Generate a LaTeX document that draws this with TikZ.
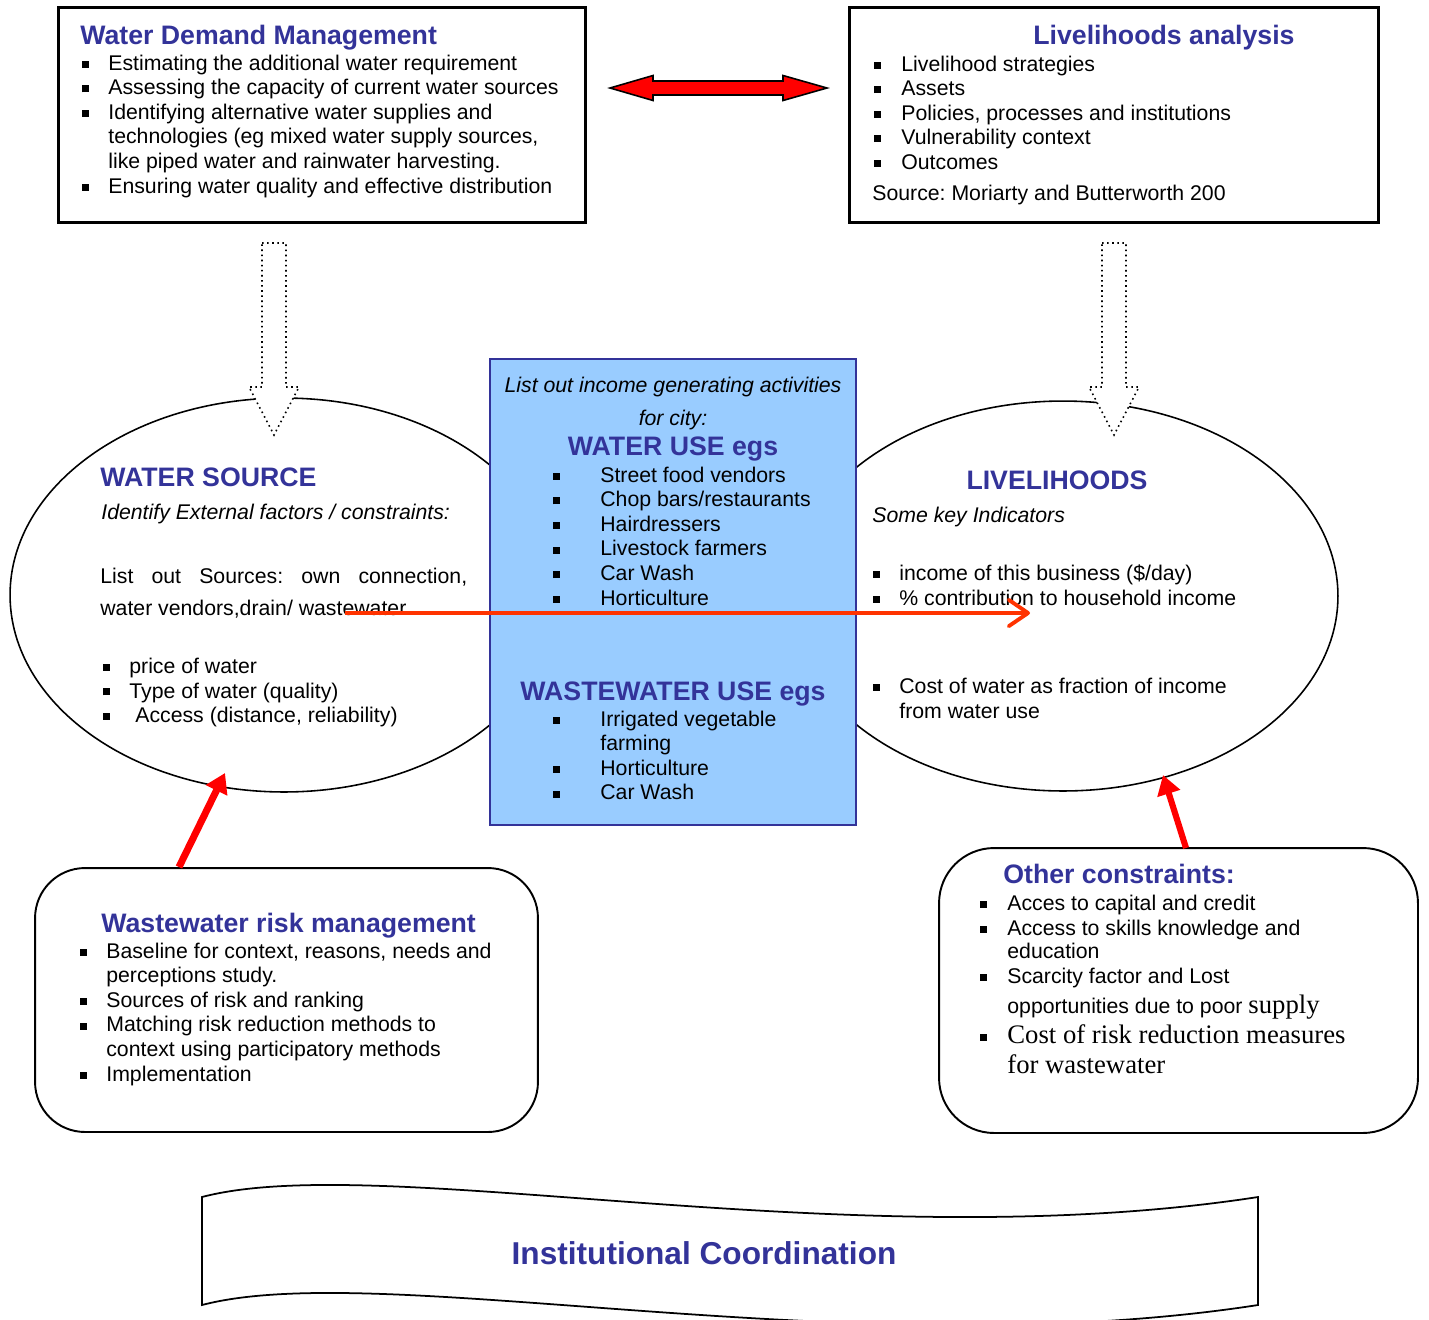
\documentclass[tikz,border=0pt]{standalone}
\usepackage{fontspec}
\setmainfont{Liberation Sans}
\newfontfamily\timesfont{Liberation Serif}
\usepackage{xcolor}
\usetikzlibrary{arrows.meta,calc,positioning,shapes.geometric}

\definecolor{hdblue}{HTML}{333399}
\definecolor{usefill}{HTML}{99CCFF}
\definecolor{flowred}{HTML}{FF3300}

\frenchspacing
\newcommand{\bodyfont}{\fontsize{12.1}{14}\selectfont}
\newcommand{\hdfont}{\fontsize{15.2}{17}\selectfont\bfseries}
\newcommand{\serifbig}{\timesfont\fontsize{15.2}{17}\selectfont}
\newcommand{\sqbul}{\rule[1.3pt]{4pt}{4pt}}

\tikzset{
  txt/.style={anchor=base west, inner sep=0pt, font=\bodyfont},
  itx/.style={anchor=base west, inner sep=0pt, font=\bodyfont\itshape},
  hd/.style={anchor=base west, inner sep=0pt, font=\hdfont, text=hdblue},
  boxframe/.style={draw, line width=1.7pt, inner sep=0pt},
  oval/.style={draw, ellipse, line width=0.9pt, inner sep=0pt},
  roundbox/.style={draw, line width=1.1pt, rounded corners=1cm, inner sep=0pt},
  redarrow/.style={draw=red, line width=4pt, -{Triangle[length=11pt,width=13pt]}},
  dotarrow/.style={dotted, line width=0.9pt, fill=white},
}

\begin{document}
\begin{tikzpicture}[x=0.02cm,y=-0.02cm]
\useasboundingbox (0,0) rectangle (1429,1319);

\node[boxframe, minimum width=10.56cm, minimum height=4.32cm] (wdm) at (322,115) {};
\node[hd] (wdm-title) at (80,44) {Water Demand Management};
\foreach \ln [count=\i] in {Estimating the additional water requirement,
  Assessing the capacity of current water sources,
  Identifying alternative water supplies and,
  {technologies (eg mixed water supply sources,},
  like piped water and rainwater harvesting.,
  Ensuring water quality and effective distribution}
  \node[txt] (wdm-l\i) at (108,{70+24.6*(\i-1)}) {\ln};
\foreach \i in {1,2,3,6}
  \node[txt] (wdm-b\i) at (82,{70+24.6*(\i-1)}) {\sqbul};

\node[boxframe, minimum width=10.6cm, minimum height=4.32cm] (lha) at (1114,115) {};
\node[hd] (lha-title) at (1033,44) {Livelihoods analysis};
\foreach \ln [count=\i] in {Livelihood strategies, Assets,
  {Policies, processes and institutions}, Vulnerability context, Outcomes}
  {\node[txt] (lha-l\i) at (901,{71+24.5*(\i-1)}) {\ln};
   \node[txt] (lha-b\i) at (874,{71+24.5*(\i-1)}) {\sqbul};}
\node[txt] (lha-src) at (872,200) {Source: Moriarty and Butterworth 200};

\coordinate (wdm-link) at (610,88);
\coordinate (lha-link) at (827,88);
\draw[fill=red, line width=0.9pt] (wdm-link) -- ($(wdm-link)+(43,-12.5)$) -- ($(wdm-link)+(43,-7)$)
  -- ($(lha-link)+(-44,-7)$) -- ($(lha-link)+(-44,-12.5)$) -- (lha-link)
  -- ($(lha-link)+(-44,12.5)$) -- ($(lha-link)+(-44,7)$) -- ($(wdm-link)+(43,7)$)
  -- ($(wdm-link)+(43,12.5)$) -- cycle;

\node[oval, minimum width=10.96cm, minimum height=7.88cm] (src) at (284,595) {};
\node[oval, minimum width=11cm, minimum height=7.8cm] (liv) at (1063,596) {};

\coordinate (wdm-out) at (274,243);
\coordinate (src-in) at (274,435);
\coordinate (lha-out) at (1114,243);
\coordinate (liv-in) at (1114,435);
\foreach \from/\to in {wdm-out/src-in, lha-out/liv-in}
  \draw[dotarrow] ($(\from)+(-12,0)$) -- ($(\from)+(12,0)$) -- ($(\to)+(12,-48)$)
    -- ($(\to)+(25,-48)$) -- (\to) -- ($(\to)+(-25,-48)$) -- ($(\to)+(-12,-48)$) -- cycle;

\node[draw=hdblue, line width=1.1pt, fill=usefill, minimum width=7.32cm,
  minimum height=9.32cm, inner sep=0pt] (uses) at (673,592) {};
\node[itx, anchor=base] (uses-sub1) at (673,392) {List out income generating activities};
\node[itx, anchor=base] (uses-sub2) at (673,425) {for city:};
\node[hd, anchor=base] (uses-title) at (673,455) {WATER USE egs};
\foreach \ln [count=\i] in {Street food vendors, Chop bars/restaurants, Hairdressers,
  Livestock farmers, Car Wash, Horticulture}
  {\node[txt] (uses-l\i) at (600,{482+24.6*(\i-1)}) {\ln};
   \node[txt] (uses-b\i) at (553,{482+24.6*(\i-1)}) {\sqbul};}
\node[hd, anchor=base] (ww-title) at (673,700) {WASTEWATER USE egs};
\foreach \ln [count=\i] in {Irrigated vegetable, farming, Horticulture, Car Wash}
  \node[txt] (ww-l\i) at (600,{726+24.6*(\i-1)}) {\ln};
\foreach \i in {1,3,4}
  \node[txt] (ww-b\i) at (553,{726+24.6*(\i-1)}) {\sqbul};

\node[hd] (src-title) at (100,486) {WATER SOURCE};
\node[itx] (src-sub) at (101,519) {Identify External factors / constraints:};
\node[txt] (src-l1) at (100,583) {\makebox[7.34cm][s]{List out Sources: own connection,}};
\node[txt] (src-l2) at (100,615) {water vendors,drain/ wastewater};
\node[txt] (src-p1) at (129,673) {price of water};
\node[txt] (src-p2) at (129,698) {Type of water (quality)};
\node[txt] (src-p3) at (135,722) {Access (distance, reliability)};
\foreach \i in {1,2,3}
  \node[txt] (src-b\i) at (103,{673+24.6*(\i-1)}) {\sqbul};

\node[hd, anchor=base] (liv-title) at (1057,489) {LIVELIHOODS};
\node[itx] (liv-sub) at (872,522) {Some key Indicators};
\node[txt] (liv-l1) at (899,580) {income of this business (\$/day)};
\node[txt] (liv-l2) at (899,605) {\% contribution to household income};
\node[txt] (liv-l3) at (899,693) {Cost of water as fraction of income};
\node[txt] (liv-l4) at (899,718) {from water use};
\foreach \y [count=\i] in {580,605,693}
  \node[txt] (liv-b\i) at (873,\y) {\sqbul};

\coordinate (src-flow) at (345,613);
\coordinate (liv-flow) at (1030,613);
\draw[flowred, line width=2.2pt, -{Straight Barb[length=11pt,width=15pt,round]}] (src-flow) -- (liv-flow);

\node[roundbox, minimum width=10.06cm, minimum height=5.28cm] (wrm) at (286.5,1000) {};
\node[hd] (wrm-title) at (101,932) {Wastewater risk management};
\foreach \ln [count=\i] in {{Baseline for context, reasons, needs and},
  perceptions study., Sources of risk and ranking, Matching risk reduction methods to,
  context using participatory methods, Implementation}
  \node[txt] (wrm-l\i) at (106,{958+24.6*(\i-1)}) {\ln};
\foreach \i in {1,3,4,6}
  \node[txt] (wrm-b\i) at (80,{958+24.6*(\i-1)}) {\sqbul};

\node[roundbox, rounded corners=1.1cm, minimum width=9.58cm, minimum height=5.7cm] (oth) at (1178.5,990.5) {};
\node[hd] (oth-title) at (1003,883) {Other constraints:};
\node[txt] (oth-l1) at (1007,910) {Acces to capital and credit};
\node[txt] (oth-l2) at (1007,935) {Access to skills knowledge and};
\node[txt] (oth-l3) at (1007,958) {education};
\node[txt] (oth-l4) at (1007,983) {Scarcity factor and Lost};
\node[txt] (oth-l5) at (1007,1013) {opportunities due to poor {\serifbig supply}};
\node[txt, font=\serifbig] (oth-l6) at (1007,1043) {Cost of risk reduction measures};
\node[txt, font=\serifbig] (oth-l7) at (1007,1073) {for wastewater};
\foreach \y [count=\i] in {910,935,983,1043}
  \node[txt] (oth-b\i) at (980,\y) {\sqbul};

\coordinate (wrm-out) at (179,867);
\coordinate (src-up) at (225,773);
\draw[redarrow] (wrm-out) -- (src-up);
\coordinate (oth-out) at (1186,848);
\coordinate (liv-up) at (1163,775);
\draw[redarrow, line width=3.5pt] (oth-out) -- (liv-up);

\draw[line width=1pt, fill=white] (202,1197) .. controls (380,1150) and (850,1260) .. (1258,1197)
  -- (1258,1305) .. controls (850,1368) and (380,1258) .. (202,1305) -- cycle;
\node[font=\fontsize{18}{20}\selectfont\bfseries, text=hdblue] (inst) at (704,1253) {Institutional Coordination};
\end{tikzpicture}
\end{document}
